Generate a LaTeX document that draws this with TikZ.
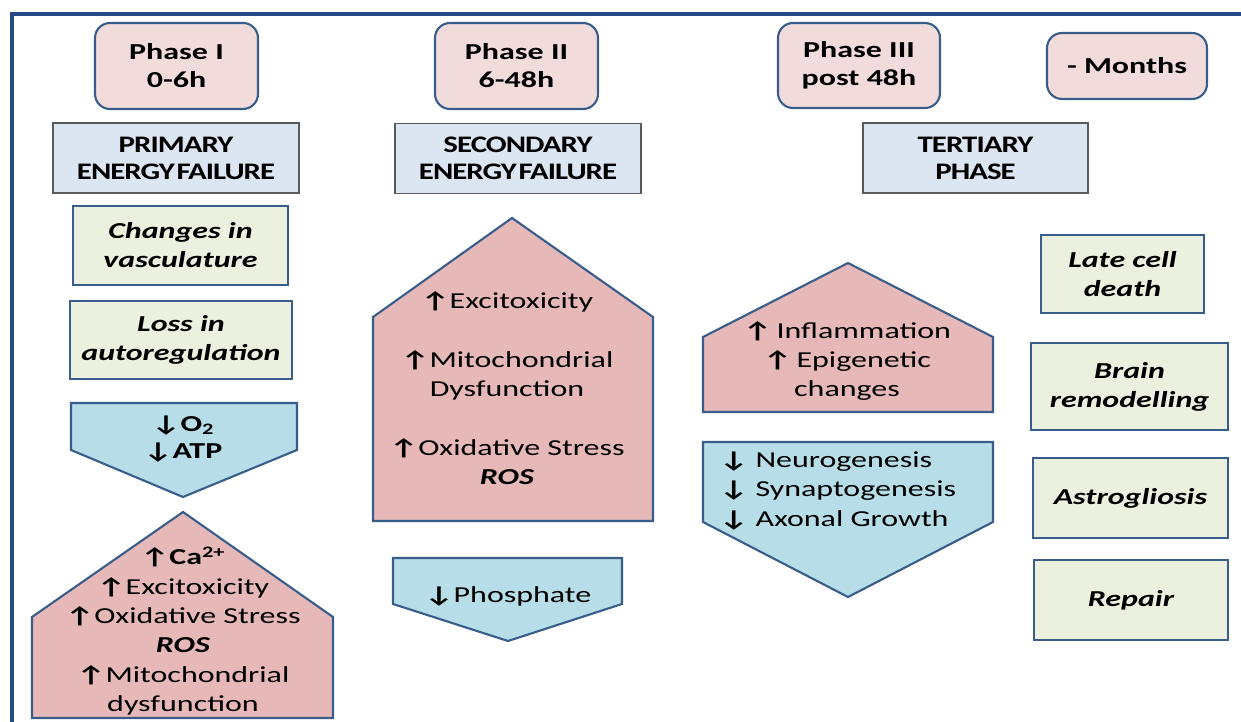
\documentclass[tikz,border=0pt]{standalone}
\usepackage{fontspec}
\setmainfont{Carlito}[FakeStretch=1.4]
\newfontfamily\headfont{Carlito}[FakeStretch=1.3, LetterSpace=-4.0, WordSpace=0.3]
\usepackage{tikz}
\usepackage{xcolor}

\definecolor{framecol}{RGB}{38,74,135}
\definecolor{edgeblue}{RGB}{56,93,138}
\definecolor{phasepink}{RGB}{242,220,219}
\definecolor{uppink}{RGB}{230,185,184}
\definecolor{headblue}{RGB}{220,230,242}
\definecolor{headgray}{RGB}{90,90,90}
\definecolor{downblue}{RGB}{183,221,232}
\definecolor{notegreen}{RGB}{235,241,222}

\newcommand{\upar}{{\bfseries ↑}}
\newcommand{\dnar}{{\bfseries ↓}}

\begin{document}
\begin{tikzpicture}[
        x=0.02cm, y=-0.02cm,
        phasebox/.style={draw=edgeblue, fill=phasepink, line width=1.2pt, rounded corners=0.3cm,
            align=center, font=\fontsize{13}{15.9}\selectfont\bfseries},
        headbox/.style={draw=headgray, fill=headblue, line width=0.9pt, minimum height=1.4cm,
            align=center, font=\headfont\fontsize{13.5}{15.3}\selectfont\bfseries},
        notebox/.style={draw=edgeblue, fill=notegreen, line width=1.2pt,
            align=center, font=\fontsize{13}{16.5}\selectfont\bfseries\itshape},
        upshape/.style={draw=edgeblue, fill=uppink, line width=1.2pt},
        downshape/.style={draw=edgeblue, fill=downblue, line width=1.2pt},
        listtext/.style={align=center, inner sep=0pt, font=\fontsize{13}{16.7}\selectfont}
    ]
    \useasboundingbox (0,0) rectangle (1241,722);

    % Frame
    \draw[framecol, line width=1.8pt] (12,722) -- (12,14) -- (1241,14);

    % Top: phase boxes
    \node[phasebox, minimum width=3.26cm, minimum height=1.72cm] (ph1) at (176.5,66) {Phase I\\0-6h};
    \node[phasebox, minimum width=3.26cm, minimum height=1.72cm] (ph2) at (516.5,66) {Phase II\\6-48h};
    \node[phasebox, minimum width=3.24cm, minimum height=1.70cm] (ph3) at (859,65.5) {Phase III\\post 48h};
    \node[phasebox, minimum width=3.2cm, minimum height=1.32cm] (months) at (1127,66) {- Months};

    % Energy failure headers
    \node[headbox, minimum width=4.92cm] (primary) at (176,158) {PRIMARY\\ENERGY FAILURE};
    \node[headbox, minimum width=4.92cm] (secondary) at (518,158.5) {SECONDARY\\ENERGY FAILURE};
    \node[headbox, minimum width=4.5cm] (tertiary) at (975.5,158) {TERTIARY\\PHASE};

    % Phase I column
    \node[notebox, minimum width=4.3cm, minimum height=1.58cm] (vasc) at (180.5,245.5) {Changes in\\vasculature};
    \node[notebox, minimum width=4.44cm, minimum height=1.56cm] (autoreg) at (181,340) {Loss in\\autoregulation};

    \draw[downshape] (71,403) -- (297,403) -- (297,450) -- (183,497) -- (71,450) -- cycle;
    \node[listtext, font=\fontsize{13}{15.3}\selectfont\bfseries] (atp) at (183,439) {\dnar O\textsubscript{2}\\\dnar ATP};

    \draw[upshape] (32,718) -- (32,617) -- (183,512) -- (333,617) -- (333,718) -- cycle;
    \node[listtext] (early) at (183,631) {\textbf{\upar Ca\textsuperscript{2+}}\\\upar Excitoxicity\\
        \upar Oxidative Stress\\\textbf{\textit{ROS}}\\\upar Mitochondrial\\dysfunction};

    % Phase II column
    \draw[upshape] (373,521) -- (373,317) -- (512,218) -- (653,317) -- (653,521) -- cycle;
    \node[listtext] (delayed) at (507,388) {\upar Excitoxicity\\[16.7pt]\upar Mitochondrial\\Dysfunction\\[16.7pt]
        \upar Oxidative Stress\\\textbf{\textit{ROS}}};

    \draw[downshape] (393,558) -- (622,558) -- (622,604) -- (508,641) -- (393,604) -- cycle;
    \node[listtext] (phosphate) at (508,596) {\dnar Phosphate};

    % Phase III column
    \draw[upshape] (703,412) -- (703,337) -- (848,263) -- (993,337) -- (993,412) -- cycle;
    \node[listtext] (inflam) at (847,361) {\upar\hspace{0.2em}Inflammation\\\upar\hspace{0.2em}Epigenetic\\changes};

    \draw[downshape] (703,442) -- (993,442) -- (993,522) -- (848,597) -- (703,522) -- cycle;
    \node[listtext, align=left, anchor=west] (growth) at (719,491) {\dnar\ Neurogenesis\\\dnar\ Synaptogenesis\\\dnar\ Axonal Growth};

    % Months column
    \node[notebox, minimum width=3.26cm, minimum height=1.56cm] (latedeath) at (1122.5,274) {Late cell\\death};
    \node[notebox, minimum width=3.94cm, minimum height=1.74cm] (remodel) at (1129.5,386.5) {Brain\\remodelling};
    \node[notebox, minimum width=3.9cm, minimum height=1.6cm] (astro) at (1130.5,498) {Astrogliosis};
    \node[notebox, minimum width=3.88cm, minimum height=1.6cm] (repair) at (1131,600) {Repair};
\end{tikzpicture}
\end{document}
